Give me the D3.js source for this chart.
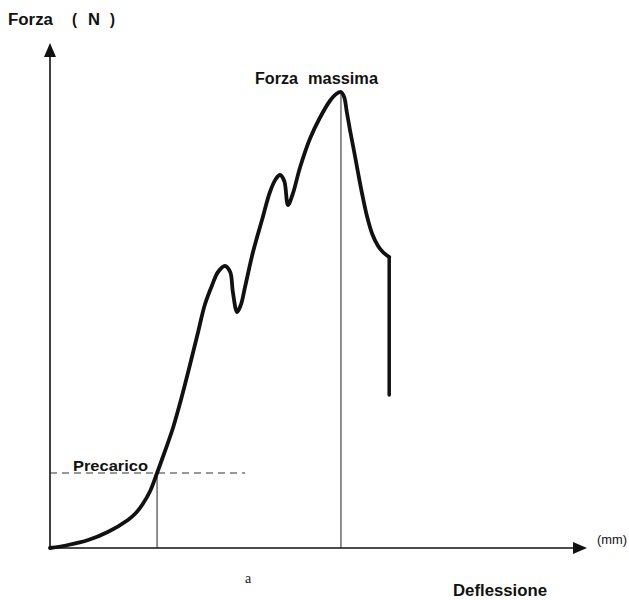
<!DOCTYPE html>
<html>
<head>
<meta charset="utf-8">
<script src="https://cdn.jsdelivr.net/npm/d3@7"></script>
<style>
  body { margin: 0; background: #fff; }
  text { font-family: "Liberation Sans", Arial, sans-serif; fill: #111; }
  .lbl { font-weight: bold; }
</style>
</head>
<body>
<svg width="629" height="600"></svg>
<script>
// deflessione (mm) e forza (N), letti a occhio dal grafico
const deflessione = [0, 3.4, 7.2, 10.9, 14.7, 16.2, 17.5, 18.9, 20.2, 21.7, 23.2, 24.7, 26.4, 27.9, 29.2, 30.6, 31.7, 33, 34, 34.5, 35.3, 36, 36.8, 38.3, 40, 41.5, 42.6, 43.4, 44.2, 44.9, 45.8, 47.2, 49.1, 50.9, 52.8, 54, 54.9, 55.5, 56, 56.6, 57.4, 58.1, 58.9, 59.8, 60.8, 61.9, 62.8, 64];
const forza = [0, 0.6, 1.6, 3.2, 5.6, 7, 8.8, 11.4, 15, 19.4, 24, 29.6, 36.6, 43, 48.6, 52.6, 55.2, 56.4, 55.2, 51.2, 47.2, 48.6, 52.2, 59.2, 65.6, 71.2, 73.8, 74.6, 73.4, 68.6, 70.8, 76.2, 82, 86, 89.4, 90.8, 91.2, 90.2, 87.2, 83.6, 79.2, 75.2, 70.8, 66.4, 62.8, 60.4, 59.2, 58.2];
const rottura = [58.2, 30.6]; // caduta verticale finale
const precarico = { x: 20.2, y: 15, fine: 36.8 };
const massima = { x: 54.9, y: 91.2 };

const svg = d3.select('svg');
const x = d3.scaleLinear().domain([0, 100]).range([50, 580]);
const y = d3.scaleLinear().domain([0, 100]).range([548, 48]);

const data = deflessione.map((d, i) => ({ x: d, y: forza[i] }));

// assi
svg.append('line').attr('x1', x(0)).attr('x2', 578).attr('y1', y(0)).attr('y2', y(0))
  .attr('stroke', '#111').attr('stroke-width', 1.6);
svg.append('line').attr('x1', x(0)).attr('x2', x(0)).attr('y1', y(0)).attr('y2', 52)
  .attr('stroke', '#111').attr('stroke-width', 1.6);
svg.append('path').attr('d', `M${x(0)},43 L${x(0) - 6},57 L${x(0) + 6},57 Z`).attr('fill', '#111');
svg.append('path').attr('d', `M587,${y(0)} L573,${y(0) - 6} L573,${y(0) + 6} Z`).attr('fill', '#111');

// linee di riferimento
svg.append('line')
  .attr('x1', x(0)).attr('x2', x(precarico.fine))
  .attr('y1', y(precarico.y)).attr('y2', y(precarico.y))
  .attr('stroke', '#333').attr('stroke-width', 1).attr('stroke-dasharray', '7,5');
svg.append('line')
  .attr('x1', x(precarico.x)).attr('x2', x(precarico.x))
  .attr('y1', y(precarico.y)).attr('y2', y(0))
  .attr('stroke', '#222').attr('stroke-width', 1);
svg.append('line')
  .attr('x1', x(massima.x)).attr('x2', x(massima.x))
  .attr('y1', y(massima.y)).attr('y2', y(0))
  .attr('stroke', '#222').attr('stroke-width', 1);

// curva
const lineGenerator = d3.line()
  .x(d => x(d.x))
  .y(d => y(d.y))
  .curve(d3.curveCatmullRom.alpha(0.5));
svg.append('path')
  .attr('d', lineGenerator(data))
  .attr('fill', 'none').attr('stroke', '#111').attr('stroke-width', 3.8)
  .attr('stroke-linejoin', 'round').attr('stroke-linecap', 'round');
svg.append('line')
  .attr('x1', x(deflessione[deflessione.length - 1])).attr('x2', x(deflessione[deflessione.length - 1]))
  .attr('y1', y(rottura[0])).attr('y2', y(rottura[1]))
  .attr('stroke', '#111').attr('stroke-width', 3.5).attr('stroke-linecap', 'round');

// testi (textLength per avere la stessa larghezza dell'originale)
const label = (t, px, py, size, len, bold) => svg.append('text')
  .attr('class', bold ? 'lbl' : null)
  .attr('x', px).attr('y', py).attr('font-size', size)
  .attr('textLength', len).attr('lengthAdjust', 'spacingAndGlyphs')
  .text(t);

label('Forza', 8, 25, 16, 45, true);
label('(', 72, 25, 16, 5, true);
label('N', 88, 25, 16, 12, true);
label(')', 110, 25, 16, 5, true);
label('Forza', 255, 84, 16, 43, true);
label('massima', 308, 84, 16, 70, true);
label('Precarico', 73, 471, 15, 75, true);
label('(mm)', 597, 544, 13, 30, false);
svg.append('text').attr('x', 245).attr('y', 583).attr('font-size', 14)
  .style('font-family', '"Liberation Serif", serif').text('a');
label('Deflessione', 453, 596, 16, 94, true);
</script>
</body>
</html>
